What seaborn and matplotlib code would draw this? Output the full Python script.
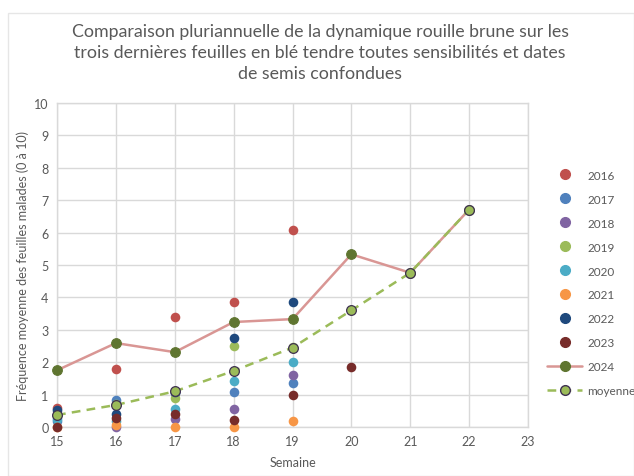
import matplotlib
matplotlib.use("Agg")
import matplotlib.pyplot as plt
import seaborn as sns
import pandas as pd
from matplotlib.lines import Line2D
from matplotlib.patches import Rectangle

sns.set_style("white")
plt.rcParams['font.family'] = ['Lato', 'DejaVu Sans']

# ---- data ----
years = ["2016", "2017", "2018", "2019", "2020", "2021", "2022", "2023"]
weeks_years = [15, 16, 17, 18, 19]
v2016 = [0.60, 1.78, 3.39, 3.87, 6.07]
v2017 = [0.19, 0.82, 1.05, 1.08, 1.37]
v2018 = [0.38, 0.00, 0.24, 0.55, 1.62]
v2019 = [0.35, 0.70, 0.91, 2.49, 2.48]
v2020 = [0.24, 0.20, 0.57, 1.43, 2.01]
v2021 = [0.00, 0.06, 0.00, 0.00, 0.20]
v2022 = [0.53, 0.41, 1.09, 2.75, 3.86]
weeks_2023 = [15, 16, 17, 18, 19, 20]
v2023 = [0.00, 0.29, 0.41, 0.22, 1.00, 1.86]
weeks_line = [15, 16, 17, 18, 19, 20, 21, 22]
v2024 = [1.75, 2.59, 2.31, 3.24, 3.33, 5.33, 4.76, 6.71]
moyenne = [0.37, 0.68, 1.10, 1.73, 2.45, 3.60, 4.76, 6.71]

colors = {"2016": "#C0504D", "2017": "#4F81BD", "2018": "#8064A2", "2019": "#9BBB59",
          "2020": "#4BACC6", "2021": "#F79646", "2022": "#1F497D", "2023": "#772C2A"}

series_vals = {"2016": v2016, "2017": v2017, "2018": v2018, "2019": v2019,
               "2020": v2020, "2021": v2021, "2022": v2022}

rows = []
for y, vals in series_vals.items():
    for w, v in zip(weeks_years, vals):
        rows.append({"Semaine": w, "val": v, "serie": y})
for w, v in zip(weeks_2023, v2023):
    rows.append({"Semaine": w, "val": v, "serie": "2023"})
df = pd.DataFrame(rows)
df_line = pd.DataFrame({"Semaine": weeks_line, "2024": v2024, "moyenne": moyenne})

fig = plt.figure(figsize=(6.34, 4.77), dpi=100)
ax = fig.add_axes([57/634, 1-428/477, (528-57)/634, (428-104)/477])

grid_c = "#D9D9D9"
for y in years:
    sub = df[df.serie == y]
    sns.scatterplot(data=sub, x="Semaine", y="val", ax=ax, color=colors[y], s=48,
                    edgecolor=colors[y], linewidth=0, zorder=3, legend=False, clip_on=False)

sns.lineplot(data=df_line, x="Semaine", y="2024", ax=ax, color="#D99694", linewidth=1.8,
             marker="o", markersize=7, markerfacecolor="#5F7530", markeredgecolor="#5F7530",
             zorder=4, legend=False, clip_on=False)
sns.lineplot(data=df_line, x="Semaine", y="moyenne", ax=ax, color="#9BBB59", linewidth=1.8,
             linestyle=(0, (3.5, 2.5)), marker="o", markersize=7, markerfacecolor="#9BBB59",
             markeredgecolor="#3F3151", markeredgewidth=0.9, zorder=5, legend=False, clip_on=False)

ax.set_xlim(15, 23)
ax.set_ylim(0, 10)
ax.set_xticks(range(15, 24))
ax.set_yticks(range(0, 11))
ax.grid(True, color=grid_c, linewidth=1.0)
ax.set_axisbelow(True)
for s in ["top", "right", "left", "bottom"]:
    ax.spines[s].set_color(grid_c)
    ax.spines[s].set_linewidth(1.0)
ax.tick_params(axis="both", length=0, labelsize=9, colors="#595959", pad=6)
ax.set_xlabel("Semaine", fontsize=9, color="#595959", labelpad=6)
ax.set_ylabel("Fréquence moyenne des feuilles malades (0 à 10)", fontsize=9, color="#595959", labelpad=4)

fig.text(0.505, 1-53/477, "Comparaison pluriannuelle de la dynamique rouille brune sur les\n"
         "trois dernières feuilles en blé tendre toutes sensibilités et dates\n"
         "de semis confondues", ha="center", va="center", fontsize=12.8,
         color="#595959", linespacing=1.38, transform=fig.transFigure)

handles = [Line2D([], [], linestyle="none", marker="o", markersize=7, color=colors[y]) for y in years]
handles.append(Line2D([], [], color="#D99694", linewidth=1.8, marker="o", markersize=7,
                      markerfacecolor="#5F7530", markeredgecolor="#5F7530"))
handles.append(Line2D([], [], color="#9BBB59", linewidth=1.8, linestyle=(0, (3.5, 2.5)), marker="o",
                      markersize=7, markerfacecolor="#9BBB59", markeredgecolor="#3F3151"))
labels = years + ["2024", "moyenne"]
leg = fig.legend(handles, labels, loc="center left", bbox_to_anchor=(547/634, 1-284/477),
                 frameon=False, fontsize=8.5, labelspacing=1.1, handlelength=3.0,
                 handletextpad=0.4, borderpad=0, borderaxespad=0)
for t in leg.get_texts():
    t.set_color("#595959")

fig.patches.append(Rectangle((8/634, 0), 1 - 8/634, 1 - 14/477, transform=fig.transFigure,
                             fill=False, edgecolor="#E6E6E6", linewidth=1.0))

fig.savefig("out.png", dpi=100)
